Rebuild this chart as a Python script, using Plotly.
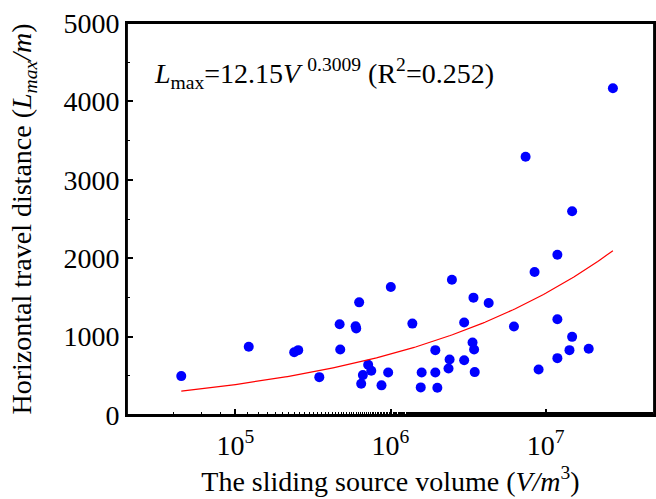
import numpy as np
import plotly.graph_objects as go

# Data (log10 of volume, travel distance)
log_volume = [4.651, 5.086, 5.379, 5.405, 5.541, 5.672, 5.676, 5.775, 5.779, 5.798,
              5.856, 5.876, 5.822, 5.811, 5.942, 5.985, 6.002, 6.396, 6.141, 6.535,
              6.633, 6.475, 6.289, 6.201, 6.289, 6.195, 6.302, 6.381, 6.374, 6.475,
              6.529, 6.539, 6.543, 6.796, 6.929, 7.076, 7.171, 6.871, 7.434, 6.955,
              7.076, 7.076, 7.171, 7.154, 7.278]
travel_distance = [496, 870, 801, 827, 483, 1157, 835, 1132, 1103, 1437,
                   641, 565, 509, 399, 378, 543, 1633, 1726, 1166, 1497,
                   1429, 1179, 827, 543, 543, 352, 348, 708, 594, 699,
                   924, 835, 547, 1128, 1823, 2043, 2599, 3294, 4167, 581,
                   1221, 725, 997, 827, 844]
volume = [10 ** v for v in log_volume]

fit_coef = 12.15
fit_exp = 0.3009
x_tickvals = [1e5, 1e6, 1e7]
x_ticktext = ["10<sup>5</sup>", "10<sup>6</sup>", "10<sup>7</sup>"]
y_tickvals = [0, 1000, 2000, 3000, 4000, 5000]

fit_x = np.logspace(np.log10(min(volume)), np.log10(max(volume)), 200)
fit_y = fit_coef * fit_x ** fit_exp

FONT = "Liberation Serif"

fig = go.Figure()
fig.add_trace(go.Scatter(x=volume, y=travel_distance, mode="markers",
                         marker=dict(color="#0000FF", size=10, line=dict(width=0)),
                         showlegend=False))
fig.add_trace(go.Scatter(x=fit_x, y=fit_y, mode="lines",
                         line=dict(color="#FF0000", width=1.2), showlegend=False))

fig.add_annotation(
    x=0.048, y=0.87, xref="paper", yref="paper", xanchor="left", yanchor="middle",
    text="<i>L</i><sub>max</sub>=12.15<i>V</i> <sup>0.3009</sup> (R<sup>2</sup>=0.252)",
    showarrow=False, font=dict(family=FONT, size=28, color="black"))

# plot frame
fig.add_shape(type="rect", xref="paper", yref="paper", x0=0, x1=1, y0=0, y1=1,
              line=dict(color="black", width=1.8), layer="above")

fig.update_layout(
    width=656, height=499,
    margin=dict(l=127, r=2, t=23, b=84),
    paper_bgcolor="white", plot_bgcolor="white",
    font=dict(family=FONT, size=28, color="black"),
)
fig.update_xaxes(
    type="log", range=[np.log10(2e4), np.log10(5e7)],
    tickvals=x_tickvals, ticktext=x_ticktext,
    ticks="inside", ticklen=6, tickwidth=1.5, tickcolor="black",
    minor=dict(ticks="inside", ticklen=3, tickwidth=1.2, tickcolor="black", showgrid=False),
    showline=True, linecolor="black", linewidth=1.8, mirror=True,
    showgrid=False, zeroline=False, automargin=False,
    ticklabelstandoff=4, ticklabeloverflow="allow",
    tickfont=dict(family=FONT, size=28),
    title=dict(text="The sliding source volume (<i>V/m</i><sup>3</sup>)",
               font=dict(family=FONT, size=28), standoff=12),
)
fig.update_yaxes(
    range=[0, 5000], tickvals=y_tickvals,
    ticks="inside", ticklen=6, tickwidth=1.5, tickcolor="black",
    minor=dict(ticks="inside", ticklen=3, tickwidth=1.2, tickcolor="black", dtick=500, showgrid=False),
    showline=True, linecolor="black", linewidth=1.8, mirror=True,
    showgrid=False, zeroline=False, automargin=False,
    ticklabeloverflow="allow",
    tickfont=dict(family=FONT, size=28),
    title=dict(text="Horizontal travel distance (<i>L</i><sub><i>max</i></sub><i>/m</i>)",
               font=dict(family=FONT, size=28), standoff=24),
)

# remove the page's default body margin so the 656x499 figure fills the window exactly
fig.write_html("out.html",
               config={"displayModeBar": False},
               post_script="document.body.style.margin='0';document.body.style.overflow='hidden';")
